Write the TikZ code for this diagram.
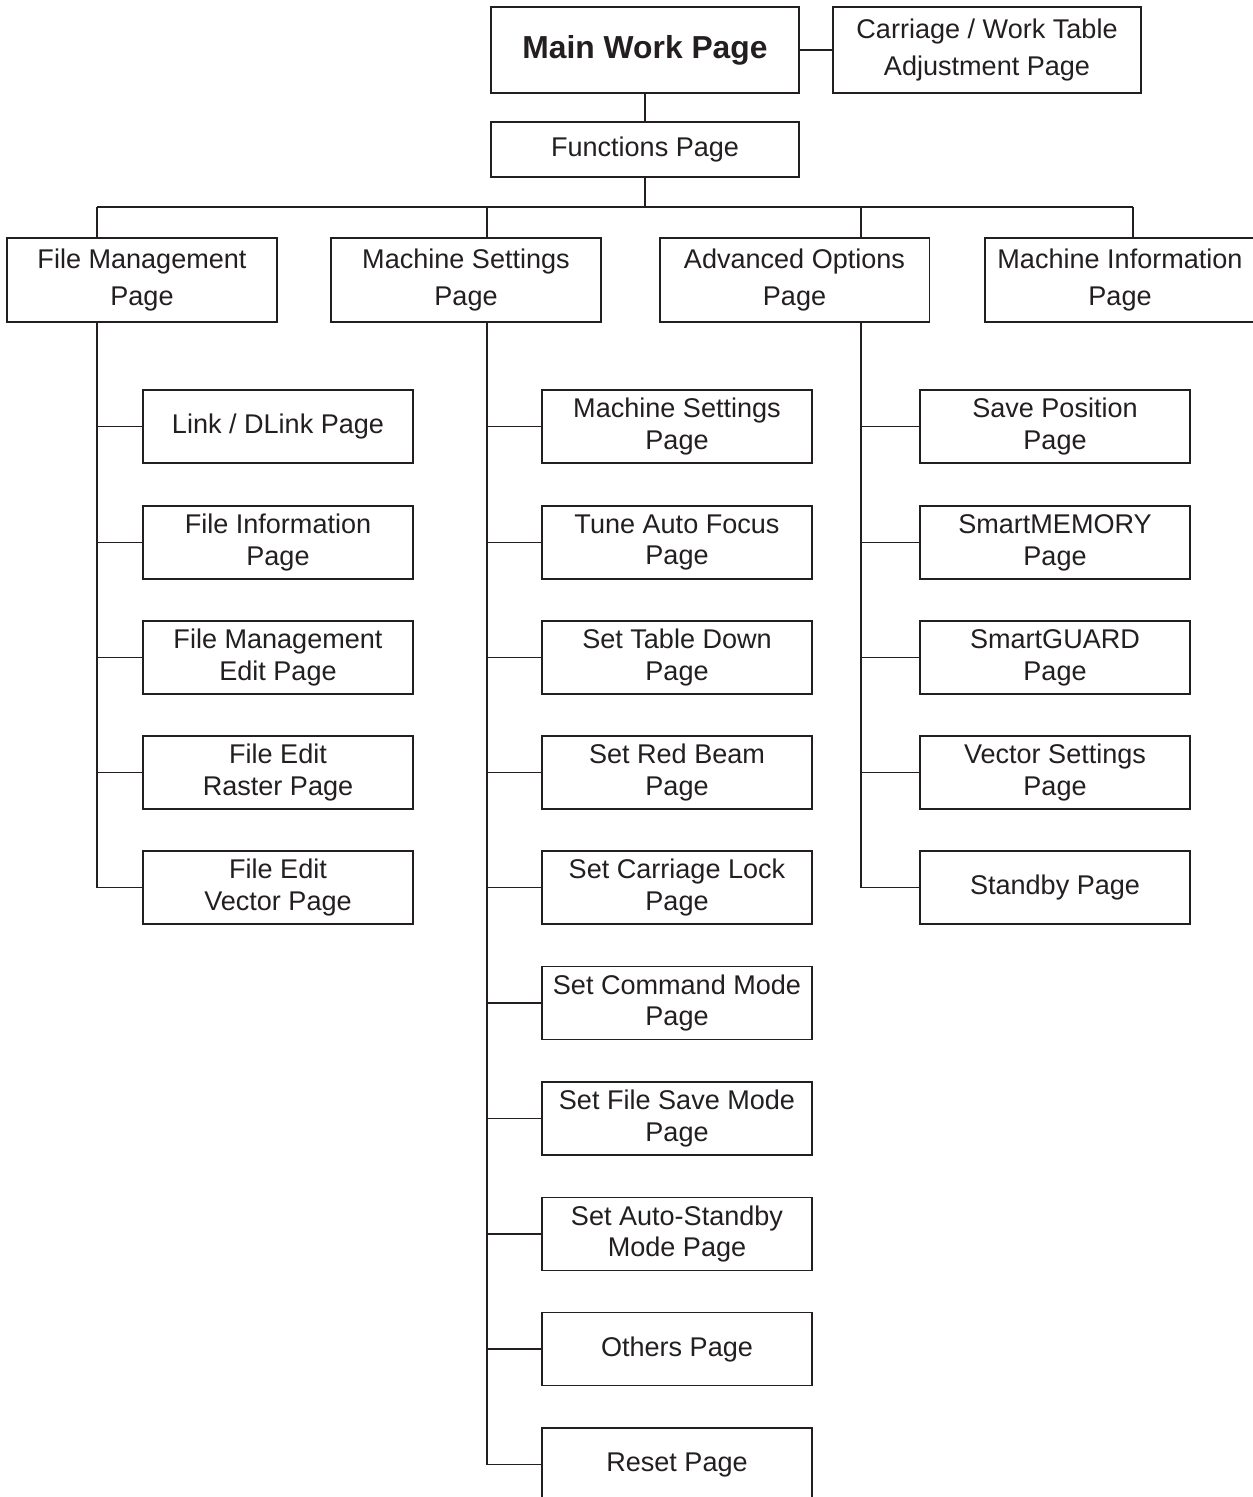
\documentclass[tikz,border=0pt]{standalone}
\usepackage{fontspec}
\setmainfont{Liberation Sans}
\usetikzlibrary{calc}
\definecolor{mapInk}{RGB}{35,31,32}

\begin{document}
\begin{tikzpicture}[
  x=0.02cm, y=-0.02cm,
  font=\fontsize{15.4}{18.2}\selectfont,
  pagebox/.style={draw=mapInk, line width=1.1pt, text=mapInk, align=center, inner sep=0pt},
  topbox/.style={pagebox, minimum width=6.16cm, minimum height=1.72cm, font=\fontsize{15.4}{21.2}\selectfont},
  secbox/.style={pagebox, minimum width=5.4cm, minimum height=1.68cm, font=\fontsize{15.4}{21.6}\selectfont},
  leafbox/.style={pagebox, minimum width=5.4cm, minimum height=1.46cm},
  link/.style={draw=mapInk, line width=1.1pt},
]
\useasboundingbox (0,0) rectangle (1252,1497);

% one leaf page: #1 name, #2 x, #3 y, #4 trunk coordinate, #5 text
\newcommand{\pageleaf}[5]{%
  \node[leafbox] (#1) at (#2,#3) {#5};
  \draw[link] (#1.west) -- (#1.west -| #4);
}

% ======================= top: main work page =======================
\node[topbox] (main) at (645,50) {\fontsize{18.1}{21}\selectfont\bfseries Main Work Page};
\node[topbox] (car) at (987,50) {Carriage / Work Table\\Adjustment Page};
\node[pagebox, minimum width=6.16cm, minimum height=1.1cm] (fn) at (645,149.5) {Functions Page};
\draw[link] (main.east) -- (car.west);
\draw[link] (main.south) -- (fn.south |- main.south) -- (fn.north);

% ======================= sections =======================
\node[secbox] (fm) at (142,280) {File Management\\Page};
\node[secbox] (ms) at (466,280) {Machine Settings\\Page};
\node[secbox] (ao) at (794.5,280) {Advanced Options\\Page};
\node[secbox] (mi) at (1120,280) {Machine Information\\Page};

\coordinate (fmx) at (97,207);
\coordinate (msx) at (487,207);
\coordinate (aox) at (861,207);
\coordinate (mix) at (1133,207);
\draw[link] (fn.south) -- (fn.south |- fmx);
\draw[link] (fmx) -- (mix);
\draw[link] (fmx) -- (fmx |- fm.north);
\draw[link] (msx) -- (msx |- ms.north);
\draw[link] (aox) -- (aox |- ao.north);
\draw[link] (mix) -- (mix |- mi.north);

% ======================= file management =======================
\pageleaf{f1}{278}{426.5}{fmx}{Link / DLink Page}
\pageleaf{f2}{278}{542.5}{fmx}{File Information\\Page}
\pageleaf{f3}{278}{657.5}{fmx}{File Management\\Edit Page}
\pageleaf{f4}{278}{772.5}{fmx}{File Edit\\Raster Page}
\pageleaf{f5}{278}{887.5}{fmx}{File Edit\\Vector Page}
\draw[link] (fmx |- fm.south) -- (fmx |- f5.west);

% ======================= machine settings =======================
\pageleaf{m1}{677}{426.5}{msx}{Machine Settings\\Page}
\pageleaf{m2}{677}{542.5}{msx}{Tune Auto Focus\\Page}
\pageleaf{m3}{677}{657.5}{msx}{Set Table Down\\Page}
\pageleaf{m4}{677}{772.5}{msx}{Set Red Beam\\Page}
\pageleaf{m5}{677}{887.5}{msx}{Set Carriage Lock\\Page}
\pageleaf{m6}{677}{1003}{msx}{Set Command Mode\\Page}
\pageleaf{m7}{677}{1118.5}{msx}{Set File Save Mode\\Page}
\pageleaf{m8}{677}{1234}{msx}{Set Auto-Standby\\Mode Page}
\pageleaf{m9}{677}{1349}{msx}{Others Page}
\pageleaf{m10}{677}{1464.5}{msx}{Reset Page}
\draw[link] (msx |- ms.south) -- (msx |- m10.west);

% ======================= advanced options =======================
\pageleaf{a1}{1055}{426.5}{aox}{Save Position\\Page}
\pageleaf{a2}{1055}{542.5}{aox}{SmartMEMORY\\Page}
\pageleaf{a3}{1055}{657.5}{aox}{SmartGUARD\\Page}
\pageleaf{a4}{1055}{772.5}{aox}{Vector Settings\\Page}
\pageleaf{a5}{1055}{887.5}{aox}{Standby Page}
\draw[link] (aox |- ao.south) -- (aox |- a5.west);

\end{tikzpicture}
\end{document}
